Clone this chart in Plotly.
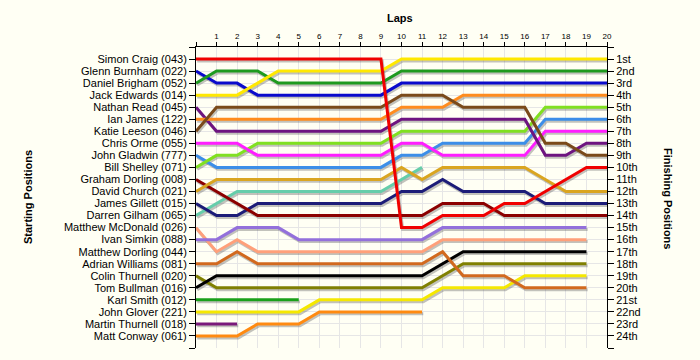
import plotly.graph_objects as go

laps = list(range(21))
lap_ticks = [""] + [str(i) for i in range(1, 21)]

starters = [
    "Simon Craig (043)", "Glenn Burnham (022)", "Daniel Brigham (052)", "Jack Edwards (014)",
    "Nathan Read (045)", "Ian James (122)", "Katie Leeson (046)", "Chris Orme (055)",
    "John Gladwin (777)", "Bill Shelley (071)", "Graham Dorling (008)", "David Church (021)",
    "James Gillett (015)", "Darren Gilham (065)", "Matthew McDonald (026)", "Ivan Simkin (088)",
    "Matthew Dorling (044)", "Adrian Williams (081)", "Colin Thurnell (020)", "Tom Bullman (016)",
    "Karl Smith (012)", "John Glover (221)", "Martin Thurnell (018)", "Matt Conway (061)",
]
finish_labels = ["1st", "2nd", "3rd", "4th", "5th", "6th", "7th", "8th", "9th", "10th",
                 "11th", "12th", "13th", "14th", "15th", "16th", "17th", "18th", "19th", "20th",
                 "21st", "22nd", "23rd", "24th"]

# positions per lap (lap 0 .. last lap completed)
red_line     = [1,1,1,1,1,1,1,1,1,1,15,15,14,14,14,13,13,12,11,10,10]
blue_line    = [2,3,3,4,4,4,4,4,4,4,3,3,3,3,3,3,3,3,3,3,3]
green_line   = [3,2,2,2,3,3,3,3,3,3,2,2,2,2,2,2,2,2,2,2,2]
yellow_line  = [4,4,4,3,2,2,2,2,2,2,1,1,1,1,1,1,1,1,1,1,1]
purple_line  = [5,7,7,7,7,7,7,7,7,7,6,6,6,6,6,6,6,9,9,8,8]
orange_line  = [6,6,6,6,6,6,6,6,6,6,5,5,5,4,4,4,4,4,4,4,4]
brown_line   = [7,5,5,5,5,5,5,5,5,5,4,4,4,5,5,5,5,8,8,9,9]
magenta_line = [8,8,8,9,9,9,9,9,9,9,8,8,9,9,9,9,9,7,7,7,7]
skyblue_line = [9,10,10,10,10,10,10,10,10,10,9,9,8,8,8,8,8,6,6,6,6]
lime_line    = [10,9,9,8,8,8,8,8,8,8,7,7,7,7,7,7,7,5,5,5,5]
darkred_line = [11,12,13,14,14,14,14,14,14,14,14,14,13,13,13,14,14,14,14,14,14]
gold_line    = [12,11,11,11,11,11,11,11,11,11,10,11,10,10,10,10,10,11,12,12,12]
navy_line    = [13,14,14,13,13,13,13,13,13,13,12,12,11,12,12,12,12,13,13,13,13]
teal_line    = [14,13,12,12,12,12,12,12,12,12,11,10]
salmon_line  = [15,17,16,17,17,17,17,17,17,17,17,17,16,16,16,16,16,16,16,16]
lavender_line = [16,16,15,15,15,16,16,16,16,16,16,16,15,15,15,15,15,15,15,15]
choc_line    = [18,18,17,18,18,18,18,18,18,18,18,18,17,19,19,19,20,20,20,20]
olive_line   = [19,20,20,20,20,20,20,20,20,20,20,20,19,18,18,18,18,18,18,18]
black_line   = [20,19,19,19,19,19,19,19,19,19,19,19,18,17,17,17,17,17,17,17]
green2_line  = [21,21,21,21,21,21]
yellow2_line = [22,22,22,22,22,22,21,21,21,21,21,21,20,20,20,20,19,19,19,19]
purple2_line = [23,23,23]
orange2_line = [24,24,24,23,23,23,22,22,22,22,22,22]

series = [
    (teal_line, "#66CDAA"), (green2_line, "#1AA01A"), (purple2_line, "#7A1A7A"),
    (orange2_line, "#FF8A10"), (yellow2_line, "#F5E800"),
    (olive_line, "#808000"), (black_line, "#000000"), (choc_line, "#D2691E"),
    (salmon_line, "#FFA07A"), (lavender_line, "#9370DB"),
    (navy_line, "#1C1C78"), (darkred_line, "#8B0000"), (gold_line, "#DAA520"),
    (skyblue_line, "#3C8EE8"), (lime_line, "#80E020"), (magenta_line, "#FF1EFF"),
    (purple_line, "#6E1480"), (orange_line, "#FF8C1E"), (brown_line, "#7A4A1A"),
    (blue_line, "#0A0ACC"), (green_line, "#1E9A1E"), (yellow_line, "#FFE800"),
    (red_line, "#F00000"),
]

fig = go.Figure()
# shadows
for pos, col in series:
    xs = [laps[i] + 0.06 for i in range(len(pos))]
    ys = [p + 0.16 for p in pos]
    fig.add_trace(go.Scatter(x=xs, y=ys, mode="lines", line=dict(color="rgba(80,80,80,0.35)", width=3),
                             hoverinfo="skip", showlegend=False))
for pos, col in series:
    fig.add_trace(go.Scatter(x=laps[:len(pos)], y=pos, mode="lines", line=dict(color=col, width=3),
                             showlegend=False))

# invisible trace on right axis
fig.add_trace(go.Scatter(x=[0], y=[1], yaxis="y2", mode="markers", marker=dict(opacity=0),
                         hoverinfo="skip", showlegend=False))

font = "Liberation Sans, Arial, sans-serif"
bg = "#FFFFF4"
W, H = 700, 360
l, r, t, b = 196, 93, 47, 12
pw, ph = W - l - r, H - t - b


def ann(text, px, py, angle=0):
    return dict(text=text, textangle=angle, xref="paper", yref="paper",
                x=(px - l) / pw, y=1 - (py - t) / ph, xanchor="center", yanchor="middle",
                showarrow=False, font=dict(size=11, family=font))


fig.update_layout(
    width=W, height=H,
    margin=dict(l=l, r=r, t=t, b=b, pad=0, autoexpand=False),
    paper_bgcolor=bg, plot_bgcolor=bg,
    font=dict(family=font, color="black", size=11),
    xaxis=dict(range=[0, 20], side="top", tickvals=laps, ticktext=lap_ticks,
               ticks="outside", ticklen=4, tickcolor="black", showline=True, linecolor="black",
               linewidth=1, showgrid=True, gridcolor="#E6E6E6", gridwidth=1, zeroline=False,
               tickfont=dict(size=8, family=font)),
    yaxis=dict(range=[25, 0], tickvals=list(range(0, 26)), ticktext=[""] + starters + [""],
               ticks="outside", ticklen=6, tickcolor="black", showline=True, linecolor="black",
               linewidth=1, showgrid=True, gridcolor="#E6E6E6", zeroline=False,
               tickfont=dict(size=11, family=font)),
    yaxis2=dict(range=[25, 0], overlaying="y", side="right", tickvals=list(range(0, 26)),
                ticktext=[""] + finish_labels + [""], ticks="outside", ticklen=6, tickcolor="black",
                showline=True, linecolor="black", linewidth=1, showgrid=False, zeroline=False,
                tickfont=dict(size=11, family=font)),
    annotations=[
        ann("<b>Laps</b>", 400, 18),
        ann("<b>Starting Positions</b>", 28, 197, -90),
        ann("<b>Finishing Positions</b>", 668, 198, 90),
    ],
)

fig.write_html(
    "out.html",
    config={"displayModeBar": False},
    post_script="document.body.style.margin='0';document.body.style.background='" + bg + "';",
)
